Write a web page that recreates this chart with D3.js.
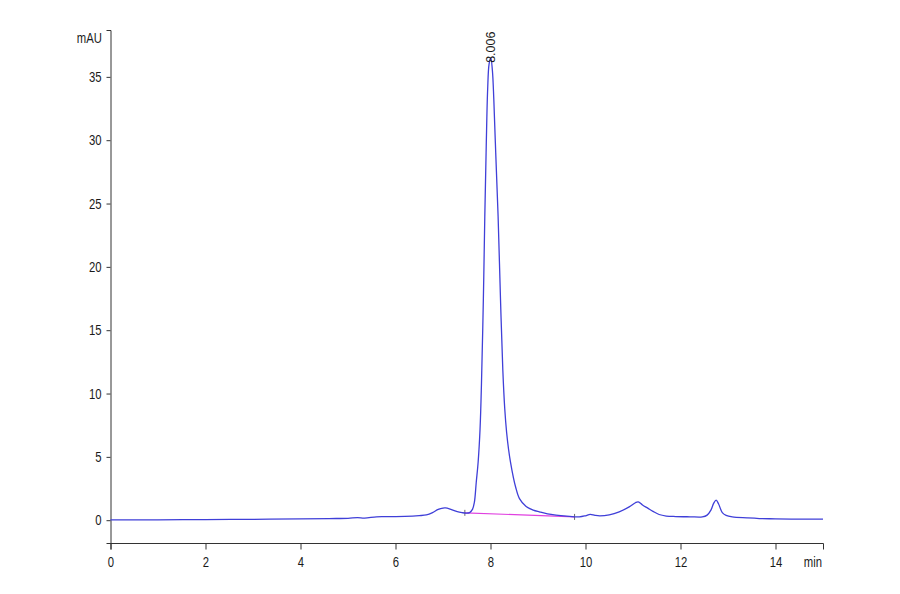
<!DOCTYPE html>
<html><head><meta charset="utf-8">
<script src="https://cdn.jsdelivr.net/npm/d3@7"></script>
<style>
body{margin:0;background:#fff;}
text{font-family:"Liberation Sans",Arial,sans-serif;fill:#1a1a1a;}
</style></head>
<body><svg id="c" width="900" height="594"></svg>
<script>
const times = [0,1,2,3,4,4.6,5.0,5.2,5.35,5.6,5.8,6.2,6.5,6.65,6.78,6.9,7.0,7.05,7.15,7.3,7.4,7.48,7.56,7.62,7.66,7.70,7.74,7.78,7.81,7.85,7.88,7.91,7.94,7.97,8.006,8.04,8.07,8.11,8.16,8.21,8.26,8.30,8.34,8.38,8.42,8.48,8.53,8.61,8.75,8.9,9.03,9.2,9.38,9.6,9.87,10.0,10.1,10.2,10.3,10.5,10.71,10.92,11.05,11.11,11.2,11.31,11.42,11.55,11.7,11.9,12.2,12.46,12.56,12.64,12.70,12.75,12.8,12.88,12.96,13.09,13.4,13.66,14.0,14.5,15.0];
const signal = [0.02,0.03,0.05,0.07,0.1,0.13,0.15,0.2,0.17,0.27,0.28,0.3,0.36,0.42,0.6,0.85,0.96,0.97,0.88,0.68,0.6,0.56,0.6,0.85,1.4,3.0,4.6,7.2,10.8,17.5,24,29.5,34,36,36.5,35.5,33.2,29,24,17.5,11.8,8.8,6.9,5.6,4.6,3.4,2.6,1.7,1.08,0.8,0.66,0.5,0.4,0.32,0.26,0.35,0.46,0.38,0.34,0.42,0.66,1.05,1.38,1.45,1.2,0.95,0.7,0.45,0.33,0.29,0.27,0.26,0.4,0.8,1.35,1.58,1.3,0.6,0.38,0.26,0.18,0.13,0.11,0.08,0.08];
const baselineT = [7.46, 9.77];
const baselineV = [0.58, 0.26];
const peakLabel = {t:8.006, v:36.5, text:"8.006"};
const xMajor = [0,2,4,6,8,10,12,14];
const yMajor = [0,5,10,15,20,25,30,35];

const svg = d3.select("#c");
const x = d3.scaleLinear().domain([0,15]).range([110.5,823]);
const y = d3.scaleLinear().domain([-1.8,38.7]).range([543,30]);
const axisColor = "#333";
const SX = 0.78; // horizontal condensing of text

// x axis
const xMinor = d3.range(0,15.01,0.5).filter(v=>!xMajor.includes(v));
const gx = svg.append("g").attr("transform","translate(0,543)");
gx.call(d3.axisBottom(x).tickValues(xMinor).tickSize(4).tickFormat(""));
gx.call(d3.axisBottom(x).tickValues(xMajor).tickSize(6.5).tickPadding(7).tickFormat(d3.format("d")));
gx.selectAll(".domain").attr("stroke",axisColor);
gx.selectAll("line").attr("stroke",axisColor);
gx.selectAll("text").attr("font-size",14.5).attr("fill","#1a1a1a").attr("transform",`scale(${SX},1)`);

// y axis
const yMinor = d3.range(-1,39,1).filter(v=>!yMajor.includes(v));
const gy = svg.append("g").attr("transform","translate(110.5,0)");
gy.call(d3.axisLeft(y).tickValues(yMinor).tickSize(3).tickFormat(""));
gy.call(d3.axisLeft(y).tickValues(yMajor).tickSize(4).tickPadding(5).tickFormat(d3.format("d")));
gy.selectAll(".domain").attr("stroke",axisColor);
gy.selectAll("line").attr("stroke",axisColor);
gy.selectAll("text").attr("font-size",14.5).attr("fill","#1a1a1a")
  .attr("x",-9/SX).attr("transform",`scale(${SX},1)`);

svg.append("text").attr("transform",`translate(102,43) scale(${SX},1)`).attr("text-anchor","end").attr("font-size",14.5).text("mAU");
svg.append("text").attr("transform",`translate(822,567) scale(${SX},1)`).attr("text-anchor","end").attr("font-size",14.5).text("min");

// baseline
const bl = baselineT.map((t,i)=>[t,baselineV[i]]);
svg.append("path").datum(bl)
  .attr("d",d3.line().x(d=>x(d[0])).y(d=>y(d[1])))
  .attr("stroke","#e040e0").attr("stroke-width",1.2).attr("fill","none");
bl.forEach(d=>{
  svg.append("line").attr("x1",x(d[0])).attr("x2",x(d[0]))
    .attr("y1",y(d[1])-3).attr("y2",y(d[1])+3).attr("stroke","#444").attr("stroke-width",0.8);
});

// signal
const data = times.map((t,i)=>[t,signal[i]]);
svg.append("path").datum(data)
  .attr("d",d3.line().curve(d3.curveCatmullRom.alpha(0.5)).x(d=>x(d[0])).y(d=>y(d[1])))
  .attr("stroke","#3f3fd8").attr("stroke-width",1.3).attr("fill","none");

// peak label
svg.append("text")
  .attr("transform",`translate(${x(peakLabel.t)+4.5},${y(peakLabel.v)+5}) rotate(-90)`)
  .attr("font-size",12.5).attr("text-anchor","start").text(peakLabel.text);
</script></body></html>
